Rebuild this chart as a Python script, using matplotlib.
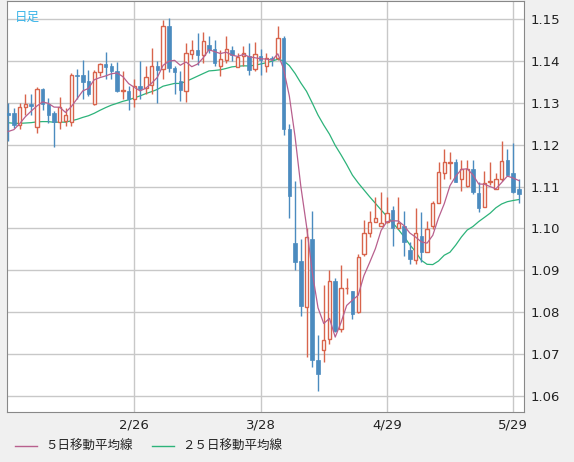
import matplotlib
matplotlib.use("Agg")
import matplotlib.pyplot as plt
from matplotlib.lines import Line2D
import numpy as np

plt.rcParams['font.family'] = ['Noto Sans CJK JP', 'DejaVu Sans']

opens = [1.1276,1.1275,1.1246,1.1290,1.1298,1.1242,1.1333,1.1298,1.1275,1.1255,
         1.1256,1.1255,1.1367,1.1367,1.1351,1.1298,1.1374,1.1393,1.1387,1.1377,
         1.1328,1.1328,1.1310,1.1341,1.1336,1.1342,1.1389,1.1381,1.1484,1.1384,
         1.1352,1.1328,1.1417,1.1425,1.1413,1.1437,1.1429,1.1389,1.1402,1.1425,
         1.1386,1.1411,1.1411,1.1380,1.1411,1.1387,1.1407,1.1407,1.1455,1.1238,
         1.0965,1.0923,1.0812,1.0975,1.0687,1.0711,1.0737,1.0875,1.0760,1.0857,
         1.0852,1.0800,1.0939,1.0990,1.1016,1.1006,1.1016,1.1044,1.1002,1.1005,
         1.0949,1.0925,1.0981,1.0943,1.1005,1.1062,1.1132,1.1157,1.1159,1.1117,
         1.1102,1.1143,1.1084,1.1052,1.1110,1.1094,1.1117,1.1163,1.1132,1.1094]
closes = [1.1272,1.1248,1.1290,1.1298,1.1292,1.1333,1.1298,1.1272,1.1254,1.1290,
          1.1271,1.1367,1.1365,1.1349,1.1320,1.1374,1.1393,1.1385,1.1375,1.1329,
          1.1330,1.1310,1.1340,1.1333,1.1362,1.1389,1.1379,1.1484,1.1382,1.1373,
          1.1330,1.1419,1.1427,1.1413,1.1448,1.1427,1.1395,1.1405,1.1429,1.1414,
          1.1410,1.1419,1.1378,1.1417,1.1402,1.1406,1.1405,1.1455,1.1238,1.1078,
          1.0921,1.0814,1.0979,1.0687,1.0653,1.0733,1.0875,1.0756,1.0859,1.0859,
          1.0796,1.0933,1.0990,1.1016,1.1024,1.1014,1.1038,1.1000,1.1014,1.0967,
          1.0927,1.0990,1.0943,1.0998,1.1060,1.1135,1.1159,1.1159,1.1111,1.1141,
          1.1143,1.1086,1.1050,1.1108,1.1113,1.1117,1.1160,1.1127,1.1086,1.1082]
highs = [1.1300,1.1288,1.1300,1.1322,1.1320,1.1338,1.1336,1.1312,1.1280,1.1314,
         1.1288,1.1370,1.1381,1.1403,1.1378,1.1378,1.1395,1.1421,1.1395,1.1397,
         1.1375,1.1340,1.1356,1.1399,1.1389,1.1431,1.1399,1.1498,1.1502,1.1389,
         1.1375,1.1443,1.1451,1.1467,1.1468,1.1459,1.1449,1.1427,1.1460,1.1435,
         1.1419,1.1435,1.1443,1.1444,1.1429,1.1419,1.1411,1.1484,1.1460,1.1250,
         1.1113,1.0976,1.1000,1.1042,1.0746,1.0865,1.0902,1.0883,1.0913,1.0881,
         1.0852,1.0939,1.1021,1.1042,1.1074,1.1088,1.1074,1.1054,1.1074,1.1042,
         1.0967,1.1048,1.1040,1.1018,1.1066,1.1159,1.1190,1.1183,1.1165,1.1163,
         1.1163,1.1163,1.1110,1.1137,1.1159,1.1133,1.1209,1.1190,1.1203,1.1117]
lows = [1.1209,1.1240,1.1238,1.1272,1.1272,1.1229,1.1284,1.1251,1.1194,1.1238,
        1.1244,1.1244,1.1308,1.1308,1.1316,1.1294,1.1364,1.1357,1.1356,1.1325,
        1.1308,1.1284,1.1290,1.1310,1.1322,1.1322,1.1300,1.1358,1.1373,1.1320,
        1.1304,1.1302,1.1405,1.1391,1.1395,1.1419,1.1389,1.1363,1.1394,1.1399,
        1.1386,1.1387,1.1367,1.1375,1.1367,1.1373,1.1387,1.1402,1.1222,1.1024,
        1.0902,1.0790,1.0693,1.0669,1.0613,1.0681,1.0725,1.0752,1.0752,1.0844,
        1.0784,1.0798,1.0935,1.0979,1.1016,1.1006,1.1014,1.0959,1.0998,1.0935,
        1.0915,1.0915,1.0919,1.0943,1.0998,1.1062,1.1117,1.1117,1.1110,1.1090,
        1.1098,1.1082,1.1040,1.1052,1.1103,1.1094,1.1113,1.1125,1.1084,1.1062]
# closes before the visible window (used only for the moving averages)
prior_closes = [1.1285,1.1292,1.1278,1.1270,1.1288,1.1280,1.1275,1.1290,1.1282,1.1276,
                1.1284,1.1279,1.1232,1.1220,1.1228,1.1215,1.1222,1.1230,1.1218,1.1212,
                1.1225,1.1220,1.1214,1.1226]
tick_pos = [22, 44, 66, 88]
tick_labels = ['2/26', '3/28', '4/29', '5/29']
y_ticks = [1.06,1.07,1.08,1.09,1.10,1.11,1.12,1.13,1.14,1.15]

RED = '#d8644c'
BLUE = '#4b8bbf'
MA5C = '#b8608e'
MA25C = '#2db37a'

fig = plt.figure(figsize=(5.74, 4.62), dpi=100, facecolor='#f0f0f0')
ax = fig.add_axes([7/574, 1 - 412/462, 517/574, 411/462])
ax.set_facecolor('white')

n = len(opens)
x = np.arange(n)
allc = np.array(prior_closes + closes)
def ma(k):
    p = len(prior_closes)
    return np.array([allc[p+i-k+1:p+i+1].mean() for i in range(n)])

for i in range(n):
    o, c, h, l = opens[i], closes[i], highs[i], lows[i]
    up = c >= o
    col = RED if up else BLUE
    ax.vlines(x[i], l, h, color=col, lw=1, zorder=3)
    bot, top = min(o, c), max(o, c)
    if up:
        ax.bar(x[i], max(top-bot, 0.00008), bottom=bot, width=0.58, facecolor='white',
               edgecolor=col, linewidth=1, zorder=4)
    else:
        ax.bar(x[i], max(top-bot, 0.00008), bottom=bot, width=0.62, facecolor=col,
               edgecolor=col, linewidth=0.5, zorder=4)

ax.plot(x, ma(25), color=MA25C, lw=0.9, zorder=2)
ax.plot(x, ma(5), color=MA5C, lw=0.9, zorder=5)

ax.set_xlim(-0.2, 89.9)
ax.set_ylim(1.0562, 1.1543)
ax.set_yticks(y_ticks)
ax.set_yticklabels([f'{v:.2f}' for v in y_ticks], fontsize=9.5, family='DejaVu Sans')
ax.yaxis.tick_right()
ax.set_xticks(tick_pos)
ax.set_xticklabels(tick_labels, fontsize=9.5, family='DejaVu Sans')
ax.tick_params(length=0, pad=5, colors='#222222')
ax.grid(True, color='#c8c8c8', lw=1)
ax.set_axisbelow(True)
for s in ax.spines.values():
    s.set_color('#888888')
ax.text(0.015, 0.975, '日足', transform=ax.transAxes, color='#3ab4e8', fontsize=9, va='top')

ly = 1 - 446/462
fig.add_artist(Line2D([15/574, 37/574], [ly, ly], color=MA5C, lw=1, transform=fig.transFigure))
fig.text(45/574, ly, '５日移動平均線', color='#222222', fontsize=9, va='center')
fig.add_artist(Line2D([152/574, 174/574], [ly, ly], color=MA25C, lw=1, transform=fig.transFigure))
fig.text(182/574, ly, '２５日移動平均線', color='#222222', fontsize=9, va='center')

fig.savefig('out.png', dpi=100, facecolor=fig.get_facecolor())
